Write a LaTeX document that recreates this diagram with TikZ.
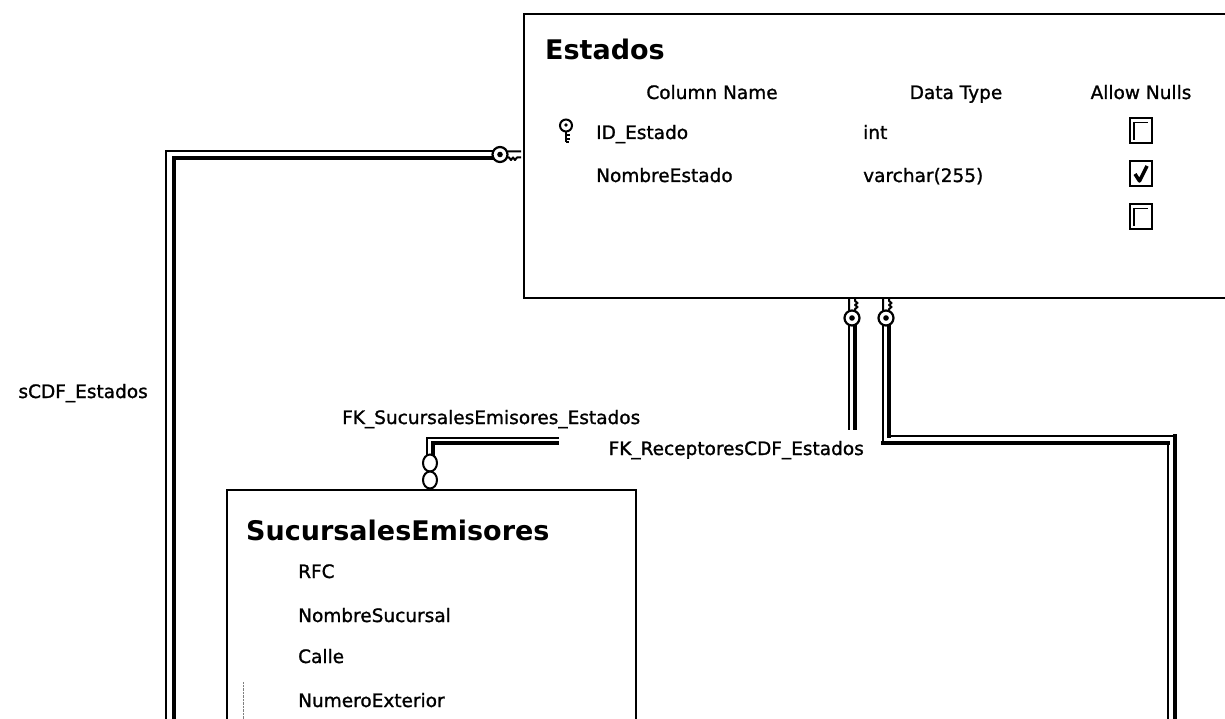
\documentclass[tikz,border=0pt]{standalone}
\usepackage{fontspec}
\setmainfont{DejaVu Sans}[UprightFeatures={FakeBold=1.2}]
\usetikzlibrary{calc}

\tikzset{
  tablebox/.style={draw, line width=1.6pt, fill=white, inner sep=0pt, anchor=north west},
  tabletitle/.style={anchor=base west, inner sep=0pt, font=\fontsize{27}{27}\selectfont\bfseries},
  coltext/.style={anchor=base west, inner sep=0pt, font=\fontsize{18.5}{18.5}\selectfont},
  headtext/.style={anchor=base, inner sep=0pt, font=\fontsize{18.5}{18.5}\selectfont},
  fklabel/.style={inner sep=0pt, font=\fontsize{18.5}{18.5}\selectfont},
  railthin/.style={line width=1.5pt, line cap=rect},
  railthick/.style={line width=3.3pt, line cap=rect},
  fkkey/.pic={
    \draw[line width=2.2pt, fill=white] (0,0) circle (7.5);
    \fill (0,0) circle (2.8);
    \draw[line width=2pt, line join=round] (-3,-7.5) -- (-3,-21)
      (3,-7.5) -- (3,-9) -- (5.5,-11) -- (3,-13) -- (5.5,-15) -- (3,-17) -- (3,-21);
  },
  pkkey/.pic={
    \draw[line width=2pt] (0,-5.5) circle (6);
    \fill (0,-6) circle (1.8);
    \draw[line width=2.6pt] (0,0) -- (0,11);
    \draw[line width=2pt] (0,4) -- (4,4) (0,8) -- (4,8) (0,11) -- (3,11);
  },
  emptynull/.pic={
    \draw[line width=2pt, fill=white] (-11,-12.5) rectangle (11,12.5);
    \draw[line width=1.2pt] (-7,9) -- (-7,-8.5) -- (7,-8.5);
  },
  checkednull/.pic={
    \draw[line width=2pt, fill=white] (-11,-12.5) rectangle (11,12.5);
    \draw[line width=3.5pt, line join=round] (-6,0) -- (-1.5,7) -- (6,-8);
  },
  manyend/.pic={
    \draw[line width=2pt, fill=white] (0,-8.5) ellipse (7 and 8.5);
    \draw[line width=2pt, fill=white] (0,8.5) ellipse (7 and 8.5);
  }
}

\begin{document}
\begin{tikzpicture}[x=1pt,y=-1pt]
  \useasboundingbox (0,0) rectangle (1225,719);
  \clip (0,0) rectangle (1225,719);

  % Tables
  \node[tablebox, minimum width=720pt, minimum height=284pt] (estados) at (523,13) {};
  \node[tablebox, minimum width=409pt, minimum height=260pt] (sucursales) at (226,489) {};

  % Estados columns
  \node[tabletitle] (estadosT) at (545,60) {Estados};
  \node[headtext] at (712,99) {Column Name};
  \node[headtext] at (956,99) {Data Type};
  \node[headtext] at (1141,99) {Allow Nulls};
  \node[coltext] (idestado) at (596,139) {ID\_Estado};
  \node[coltext] at (863,139) {int};
  \node[coltext] (nombreestado) at (596,182) {NombreEstado};
  \node[coltext] at (863,182) {varchar(255)};
  \pic at (566,131) {pkkey};
  \pic at (1141,131) {emptynull};
  \pic at (1141,174) {checkednull};
  \pic at (1141,217) {emptynull};

  % SucursalesEmisores columns
  \node[tabletitle] (sucursalesT) at (246,540) {SucursalesEmisores};
  \foreach \y/\campo in {578/RFC, 622/NombreSucursal, 663/Calle, 707/NumeroExterior}
    \node[coltext] at (298,\y) {\campo};
  \draw[gray, densely dotted] (243,682) -- (243,719);

  % key ends of the relationships
  \coordinate (keyL) at (500,154.5);
  \coordinate (keyA) at (852,318);
  \coordinate (keyB) at (886,318);
  \coordinate (manyS) at (430,471.5);

  % sCDF_Estados
  \draw[railthin] ($(keyL)+(-7,-3.5)$) -| (166,719);
  \draw[railthick] ($(keyL)+(-7,3.5)$) -| (174,719);

  % FK_SucursalesEmisores_Estados
  \draw[railthin] ($(keyA)+(-3,7)$) |- ($(manyS)+(-3,-33.5)$) -- ($(manyS)+(-3,-16)$);
  \draw[railthick] ($(keyA)+(3,7)$) |- ($(manyS)+(3,-28.5)$) -- ($(manyS)+(3,-16)$);

  % FK_ReceptoresCDF_Estados
  \draw[railthin] ($(keyB)+(-3,7)$) -- (883,443);
  \draw[railthick] (883,443) -- (1168,443);
  \draw[railthin] (1168,443) -- (1168,719);
  \draw[railthick] ($(keyB)+(3,7)$) -- (889,436);
  \draw[railthin] (889,436) -- (1175,436);
  \draw[railthick] (1175,436) -- (1175,719);

  % relationship ends
  \pic[rotate=-90] at (keyL) {fkkey};
  \pic at (keyA) {fkkey};
  \pic at (keyB) {fkkey};
  \pic at (manyS) {manyend};

  % relationship labels
  \node[fklabel, anchor=base east] at (148,398) {sCDF\_Estados};
  \node[fklabel, anchor=base west] at (342,424) {FK\_SucursalesEmisores\_Estados};
  \node[fklabel, fill=white, anchor=base east, text width=305pt, align=right,
        inner ysep=11pt] at (864,455) {FK\_ReceptoresCDF\_Estados};
\end{tikzpicture}
\end{document}
